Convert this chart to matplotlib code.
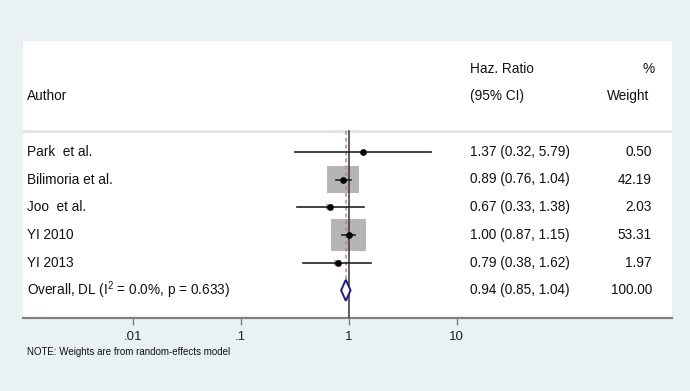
import matplotlib
matplotlib.use("Agg")
import matplotlib.pyplot as plt
import matplotlib.transforms as mtransforms
from matplotlib.patches import Rectangle, Polygon
import numpy as np

plt.rcParams['font.family'] = ['Liberation Sans', 'DejaVu Sans']
plt.rcParams['mathtext.fontset'] = 'custom'
plt.rcParams['mathtext.rm'] = 'Liberation Sans'
plt.rcParams['mathtext.it'] = 'Liberation Sans'

# ---- data ----
studies = ["Park  et al.", "Bilimoria et al.", "Joo  et al.", "YI 2010", "YI 2013"]
hr = [1.37, 0.89, 0.67, 1.00, 0.79]
lo = [0.32, 0.76, 0.33, 0.87, 0.38]
hi = [5.79, 1.04, 1.38, 1.15, 1.62]
weights = [0.50, 42.19, 2.03, 53.31, 1.97]
overall_label = r"Overall, DL (I$^{2}$ = 0.0%, p = 0.633)"
overall_hr, overall_lo, overall_hi = 0.94, 0.85, 1.04
tick_vals = [0.01, 0.1, 1, 10]
tick_labels = [".01", ".1", "1", "10"]
note = "NOTE: Weights are from random-effects model"

BG = "#e9f1f3"
fig = plt.figure(figsize=(6.9, 3.91), dpi=100, facecolor=BG)
W, H = 690, 391
ax = fig.add_axes([22.7 / W, (H - 318) / H, 649 / W, 277 / H])
ax.set_facecolor("white")
ax.set_xscale("log")
ax.set_xlim(10 ** -3.016, 10 ** 2.988)
ax.set_ylim(6, -4)
for s in ["top", "right", "left"]:
    ax.spines[s].set_visible(False)
ax.spines["bottom"].set_color("#808080")
ax.spines["bottom"].set_linewidth(1.6)
ax.set_yticks([])
ax.set_xticks(tick_vals)
ax.set_xticklabels(tick_labels, fontsize=9.5, color="#222222")
ax.minorticks_off()
ax.tick_params(axis="x", length=5, width=1, color="#808080", pad=4)

trans = mtransforms.blended_transform_factory(ax.transAxes, ax.transData)

# header separator
ax.axhline(-0.75, color="#e3e3e3", lw=2)

# reference line at 1
ax.plot([1, 1], [-0.75, 6], color="#333333", lw=1.1, zorder=3)
# dashed overall line
ax.plot([overall_hr, overall_hr], [-0.75, 5.35], color="#c07f86", lw=1.1,
        ls=(0, (2.5, 2)), zorder=4)

kh = 0.1555
kw = 0.04496
n = len(studies)
for i in range(n):
    y = i
    s = np.sqrt(weights[i])
    bw = kw * s
    bh = kh * s
    x0 = hr[i] * 10 ** (-bw / 2)
    x1 = hr[i] * 10 ** (bw / 2)
    ax.add_patch(Rectangle((x0, y - bh / 2), x1 - x0, bh, facecolor="#b5b5b5",
                           edgecolor="none", zorder=2))
    ax.plot([lo[i], hi[i]], [y, y], color="#222222", lw=1.2, zorder=5)
    ax.plot([hr[i]], [y], marker="o", ms=3.8, color="black", zorder=6)
    ax.text(0.0066, y, studies[i], transform=trans, ha="left", va="center",
            fontsize=9.8, color="#111111")
    ax.text(0.689, y, f"{hr[i]:.2f} ({lo[i]:.2f}, {hi[i]:.2f})", transform=trans,
            ha="left", va="center", fontsize=9.8, color="#111111")
    ax.text(0.9695, y, f"{weights[i]:.2f}", transform=trans, ha="right",
            va="center", fontsize=9.8, color="#111111")

# overall
yo = n
ax.add_patch(Polygon([[overall_lo, yo], [overall_hr, yo - 0.38],
                      [overall_hi, yo], [overall_hr, yo + 0.38]],
                     closed=True, facecolor="white", edgecolor="#1a1a8c",
                     lw=1.4, zorder=5))
ax.text(0.0066, yo, overall_label, transform=trans, ha="left", va="center",
        fontsize=9.8, color="#111111")
ax.text(0.689, yo, f"{overall_hr:.2f} ({overall_lo:.2f}, {overall_hi:.2f})",
        transform=trans, ha="left", va="center", fontsize=9.8, color="#111111")
ax.text(0.9695, yo, f"{sum(weights):.2f}", transform=trans, ha="right",
        va="center", fontsize=9.8, color="#111111")

# headers
ax.text(0.0066, -2, "Author", transform=trans, ha="left", va="center",
        fontsize=9.8, color="#111111")
ax.text(0.689, -3, "Haz. Ratio", transform=trans, ha="left", va="center",
        fontsize=9.8, color="#111111")
ax.text(0.689, -2, "(95% CI)", transform=trans, ha="left", va="center",
        fontsize=9.8, color="#111111")
ax.text(0.974, -3, "%", transform=trans, ha="right", va="center",
        fontsize=9.8, color="#111111")
ax.text(0.965, -2, "Weight", transform=trans, ha="right", va="center",
        fontsize=9.8, color="#111111")

fig.text(27 / W, 1 - 352 / H, note, ha="left", va="center", fontsize=7,
         color="#111111")

fig.savefig("out.png", dpi=100, facecolor=BG)
